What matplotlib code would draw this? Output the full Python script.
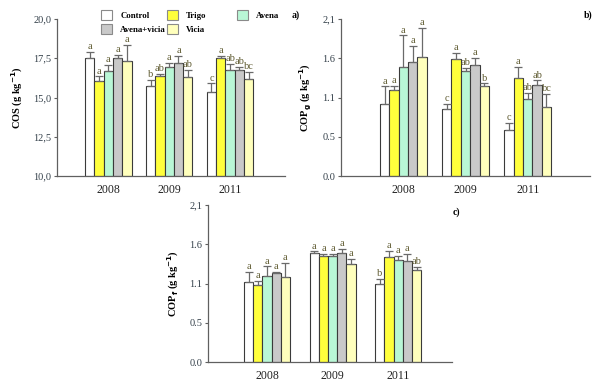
import matplotlib
matplotlib.use("Agg")
import matplotlib.pyplot as plt
import numpy as np
from matplotlib.patches import Patch

plt.rcParams['font.family'] = ['Liberation Serif', 'DejaVu Serif']

years = ["2008", "2009", "2011"]
treatments = ["Control", "Trigo", "Avena", "Avena+vicia", "Vicia"]
colors = ["#ffffff", "#ffff3c", "#b9f7d6", "#c9c9c9", "#ffffbc"]

# Panel a: COS
cos_vals = [[17.5, 16.05, 16.7, 17.5, 17.3],
            [15.73, 16.37, 16.96, 17.17, 16.33],
            [15.37, 17.5, 16.75, 16.75, 16.18]]
cos_err = [[0.38, 0.3, 0.4, 0.2, 1.05],
           [0.37, 0.13, 0.25, 0.47, 0.45],
           [0.53, 0.15, 0.38, 0.2, 0.46]]
cos_let = [["a", "a", "a", "a", "a"],
           ["b", "ab", "a", "a", "ab"],
           ["c", "a", "ab", "ab", "bc"]]

# Panel b: COPg
copg_vals = [[0.96, 1.15, 1.46, 1.53, 1.59],
             [0.90, 1.57, 1.41, 1.49, 1.20],
             [0.61, 1.31, 1.03, 1.22, 0.92]]
copg_err = [[0.24, 0.06, 0.42, 0.21, 0.39],
            [0.06, 0.08, 0.04, 0.09, 0.04],
            [0.10, 0.15, 0.08, 0.06, 0.18]]
copg_let = [["a", "a", "a", "a", "a"],
            ["c", "a", "ab", "a", "b"],
            ["c", "a", "ab", "ab", "bc"]]

# Panel c: COPf
copf_vals = [[1.07, 1.03, 1.15, 1.19, 1.14],
             [1.46, 1.42, 1.42, 1.46, 1.31],
             [1.04, 1.41, 1.36, 1.35, 1.23]]
copf_err = [[0.14, 0.06, 0.13, 0.02, 0.19],
            [0.02, 0.03, 0.03, 0.05, 0.07],
            [0.07, 0.08, 0.06, 0.10, 0.04]]
copf_let = [["a", "a", "a", "a", "a"],
            ["a", "a", "a", "a", "a"],
            ["b", "a", "a", "a", "ab"]]

cos_ticks = [10.0, 12.5, 15.0, 17.5, 20.0]
cos_ticklabels = ["10,0", "12,5", "15,0", "17,5", "20,0"]
cop_ticks = list(np.linspace(0, 2.1, 5))
cop_ticklabels = ["0.0", "0.5", "1.1", "1.6", "2,1"]

tick_col = "#34404a"
letter_col = "#5e5a30"
spine_col = "#606060"

fig = plt.figure(figsize=(6.0, 3.86), dpi=100)
W, H = 600, 386


def mk_axes(x0, x1, ytop, ybot):
    return fig.add_axes([x0 / W, 1 - ybot / H, (x1 - x0) / W, (ybot - ytop) / H])


def draw(ax, vals, errs, lets, ylim, ticks, ticklabels, ylabel, xlim, width, off):
    x = np.arange(len(years))
    for j in range(len(treatments)):
        v = [vals[i][j] for i in range(len(years))]
        e = [errs[i][j] for i in range(len(years))]
        pos = x + (j - 2) * width
        bottom = ylim[0]
        ax.bar(pos, np.array(v) - bottom, width, bottom=bottom, color=colors[j],
               edgecolor="#3a3a3a", linewidth=0.8, zorder=2)
        ax.errorbar(pos, v, yerr=[np.zeros(len(e)), e], fmt="none",
                    ecolor="#6a6a6a", elinewidth=0.9, capsize=3.2, capthick=0.9, zorder=3)
        for i in range(len(years)):
            ax.text(pos[i], v[i] + e[i] + off, lets[i][j], ha="center", va="bottom",
                    fontsize=7.5, color=letter_col)
    ax.set_xlim(*xlim)
    ax.set_ylim(*ylim)
    ax.set_xticks(x)
    ax.set_xticklabels(years, fontsize=8.5, color="#222222")
    ax.tick_params(axis="x", length=0, pad=6)
    ax.set_yticks(ticks)
    ax.set_yticklabels(ticklabels, fontsize=7.5, color=tick_col)
    ax.tick_params(axis="y", length=2.5, width=0.8, color=spine_col, pad=1.5)
    for s in ["top", "right"]:
        ax.spines[s].set_visible(False)
    for s in ["left", "bottom"]:
        ax.spines[s].set_color(spine_col)
        ax.spines[s].set_linewidth(0.9)
    ax.set_ylabel(ylabel, fontsize=7.5, fontweight="bold", labelpad=6)
    ax.patch.set_alpha(0)


ax_a = mk_axes(57, 285, 19, 176)
draw(ax_a, cos_vals, cos_err, cos_let, (10, 20), cos_ticks, cos_ticklabels,
     r"COS (g kg$^{\mathbf{-1}}$)", (-0.84, 2.9), 0.153, 0.05)

ax_b = mk_axes(341, 590, 19, 176)
draw(ax_b, copg_vals, copg_err, copg_let, (0, 2.1), cop_ticks, cop_ticklabels,
     r"COP$_{\mathbf{g}}$ (g kg$^{\mathbf{-1}}$)", (-1.0, 3.0), 0.15, 0.01)

ax_c = mk_axes(208, 452, 205, 362)
draw(ax_c, copf_vals, copf_err, copf_let, (0, 2.1), cop_ticks, cop_ticklabels,
     r"COP$_{\mathbf{f}}$ (g kg$^{\mathbf{-1}}$)", (-0.9, 2.82), 0.14, 0.01)

fig.text(296 / W, 1 - 15 / H, "a)", fontsize=7, fontweight="bold", ha="center", va="center")
fig.text(588 / W, 1 - 15 / H, "b)", fontsize=7, fontweight="bold", ha="center", va="center")
fig.text(456 / W, 1 - 212 / H, "c)", fontsize=7, fontweight="bold", ha="center", va="center")

handles = [Patch(facecolor=c, edgecolor="#8a8a8a", linewidth=0.8) for c in colors]
columns = [([0, 3], 101), ([1, 4], 167), ([2], 237)]
for idx, xpix in columns:
    leg = fig.legend([handles[k] for k in idx], [treatments[k] for k in idx],
                     loc="upper left", bbox_to_anchor=(xpix / W, 1 - 10 / H),
                     bbox_transform=fig.transFigure,
                     frameon=False, handlelength=1.3, handleheight=1.3,
                     handletextpad=0.9, labelspacing=0.5,
                     borderaxespad=0, borderpad=0, prop={"weight": "bold", "size": 6.3})

fig.savefig("out.png", dpi=100)
